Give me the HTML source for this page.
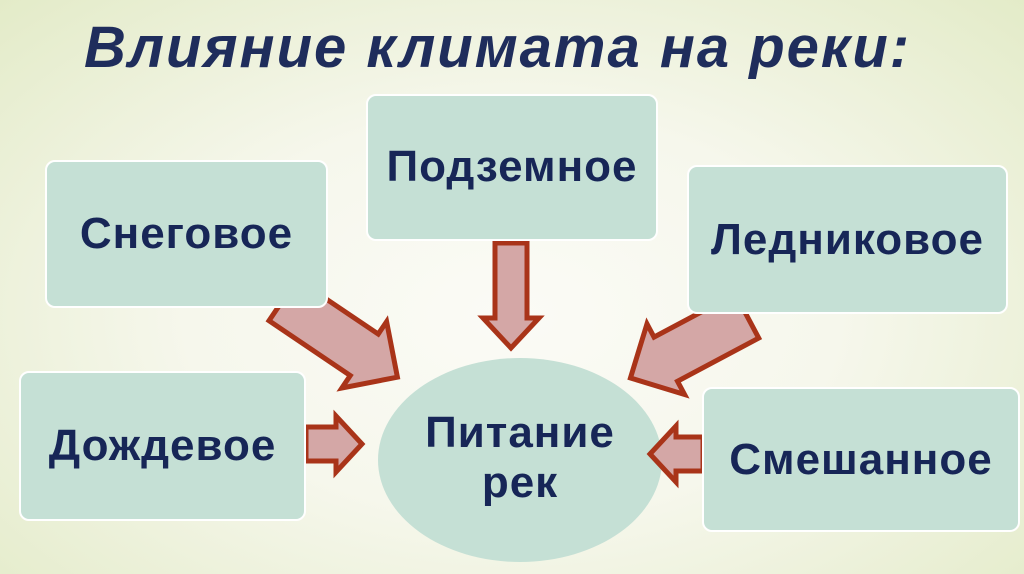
<!DOCTYPE html>
<html><head><meta charset="utf-8"><style>
html,body{margin:0;padding:0}
body{width:1024px;height:574px;overflow:hidden;position:relative;
background:radial-gradient(ellipse at 50% 55%,#fbfbf6 0%,#f6f7ec 45%,#e3ebc8 100%);
font-family:"Liberation Sans",sans-serif;color:#1b2a5a}
.t{position:absolute;left:84px;top:14px;font-size:58px;font-weight:bold;font-style:italic;letter-spacing:2px;color:#1f2d5c;white-space:nowrap}
.b{position:absolute;background:#c5e0d5;border:2px solid #fff;border-radius:10px;box-sizing:border-box;
display:flex;align-items:center;justify-content:center;font-size:44px;font-weight:bold;letter-spacing:1px;color:#172657}
</style></head><body>
<div class="t">Влияние климата на реки:</div>
<svg width="1024" height="574" style="position:absolute;left:0;top:0">
<ellipse cx="520" cy="460" rx="142" ry="102" fill="#c5e0d5"/>
<g fill="#d4a7a6" stroke="#a93419" stroke-width="5" stroke-linejoin="miter">
<polygon transform="translate(511,243) rotate(90)" points="0,-16 75,-16 75,-28 105,0 75,28 75,16 0,16"/>
<polygon transform="translate(283,300) rotate(34)" points="0,-25 98,-25 98,-40 138,0 98,40 98,25 0,25"/>
<polygon transform="translate(747,316) rotate(152)" points="0,-25 92,-25 92,-40 132,0 92,40 92,25 0,25"/>
<polygon transform="translate(306,444) rotate(0)" points="0,-17 30,-17 30,-28 56,0 30,28 30,17 0,17"/>
<polygon transform="translate(703,454) rotate(180)" points="0,-17 27,-17 27,-28 53,0 27,28 27,17 0,17"/>
</g>
</svg>
<div class="b" style="left:45px;top:160px;width:283px;height:148px">Снеговое</div>
<div class="b" style="left:366px;top:94px;width:292px;height:147px;align-items:flex-start;padding-top:46px">Подземное</div>
<div class="b" style="left:687px;top:165px;width:321px;height:149px">Ледниковое</div>
<div class="b" style="left:19px;top:371px;width:287px;height:150px">Дождевое</div>
<div class="b" style="left:702px;top:387px;width:318px;height:145px">Смешанное</div>
<div style="position:absolute;left:370px;top:408px;width:300px;text-align:center;font-size:44px;font-weight:bold;letter-spacing:1px;line-height:50px;color:#172657">Питание<br>рек</div>
</body></html>
